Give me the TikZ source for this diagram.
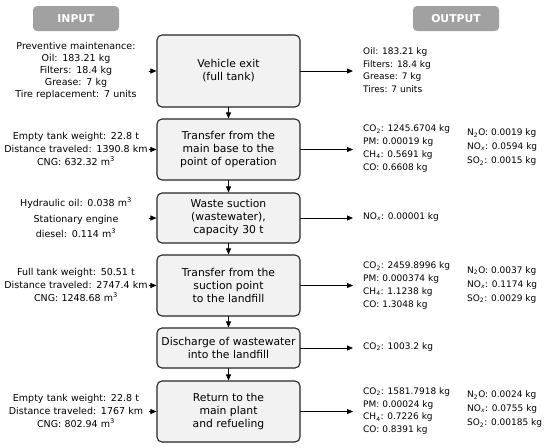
\documentclass[tikz,border=0pt]{standalone}
\usepackage{fontspec}
\setmainfont{DejaVu Sans}
\usetikzlibrary{arrows.meta}

\begin{document}
\begin{tikzpicture}[
  x={(1pt,0pt)},  % pixel grid of the layout
  y={(0pt,-1pt)}, % y grows downwards
  every path/.style={line cap=round, line join=round},
  stage/.style={draw=black!85, line width=1.1pt, fill=black!5, rounded corners=5pt,
    minimum width=143pt, align=center, inner sep=2pt,
    font=\fontsize{10.8}{13}\selectfont},
  hdr/.style={fill=black!37, rounded corners=4pt, minimum width=86pt, minimum height=25pt,
    text=white, font=\fontsize{10.8}{13}\selectfont\bfseries},
  intext/.style={text width=146pt, align=center, inner sep=0pt,
    font=\fontsize{9.5}{13}\selectfont},
  outtext/.style={anchor=west, align=left, inner xsep=10pt, inner ysep=0pt,
    font=\fontsize{9}{12.7}\selectfont},
  gastext/.style={outtext, font=\fontsize{9}{14}\selectfont},
  flow/.style={line width=0.9pt, -{Triangle[length=6pt,width=5pt]}},
]
\useasboundingbox (0,0) rectangle (550,448);

% ---------------- Headers ----------------
\node[hdr] (hin)  at (76,18.5)  {INPUT};
\node[hdr] (hout) at (456,18.5) {OUTPUT};

% ---------------- Process stages ----------------
\node[stage, minimum height=72pt] (s1) at (228.5,71)    {Vehicle exit\\(full tank)};
\node[stage, minimum height=61pt] (s2) at (228.5,149.5) {Transfer from the\\main base to the\\point of operation};
\node[stage, minimum height=50pt] (s3) at (228.5,218)   {Waste suction\\(wastewater),\\capacity 30 t};
\node[stage, minimum height=61pt] (s4) at (228.5,285.5) {Transfer from the\\suction point\\to the landfill};
\node[stage, minimum height=40pt] (s5) at (228.5,348)   {Discharge of wastewater\\into the landfill};
\node[stage, minimum height=61pt] (s6) at (228.5,411.5) {Return to the\\main plant\\and refueling};

% ---------------- Inputs ----------------
\node[intext, font=\fontsize{9.5}{12}\selectfont] (in1) at (76,71)
  {Preventive maintenance:\\Oil: 183.21 kg\\Filters: 18.4 kg\\Grease: 7 kg\\Tire replacement: 7 units};
\node[intext] (in2) at (76,148.5)
  {Empty tank weight: 22.8 t\\Distance traveled: 1390.8 km\\CNG: 632.32 m\textsuperscript{3}};
\node[intext, font=\fontsize{9.5}{15.5}\selectfont] (in3) at (76,218)
  {Hydraulic oil: 0.038 m\textsuperscript{3}\\Stationary engine\\diesel: 0.114 m\textsuperscript{3}};
\node[intext] (in4) at (76,285)
  {Full tank weight: 50.51 t\\Distance traveled: 2747.4 km\\CNG: 1248.68 m\textsuperscript{3}};
\node[intext] (in6) at (76,411)
  {Empty tank weight: 22.8 t\\Distance traveled: 1767 km\\CNG: 802.94 m\textsuperscript{3}};

% ---------------- Outputs ----------------
\node[outtext] (out1) at (353,70)
  {Oil: 183.21 kg\\Filters: 18.4 kg\\Grease: 7 kg\\Tires: 7 units};
\node[outtext] (out2) at (353,148.5)
  {CO\textsubscript{2}: 1245.6704 kg\\PM: 0.00019 kg\\CH\textsubscript{4}: 0.5691 kg\\CO: 0.6608 kg};
\node[gastext] (gas2) at (457,147.5)
  {N\textsubscript{2}O: 0.0019 kg\\NO\textsubscript{\itshape x}: 0.0594 kg\\SO\textsubscript{2}: 0.0015 kg};
\node[outtext] (out3) at (353,217)
  {NO\textsubscript{\itshape x}: 0.00001 kg};
\node[outtext] (out4) at (353,285.5)
  {CO\textsubscript{2}: 2459.8996 kg\\PM: 0.000374 kg\\CH\textsubscript{4}: 1.1238 kg\\CO: 1.3048 kg};
\node[gastext] (gas4) at (457,285)
  {N\textsubscript{2}O: 0.0037 kg\\NO\textsubscript{\itshape x}: 0.1174 kg\\SO\textsubscript{2}: 0.0029 kg};
\node[outtext] (out5) at (353,347)
  {CO\textsubscript{2}: 1003.2 kg};
\node[outtext] (out6) at (353,411)
  {CO\textsubscript{2}: 1581.7918 kg\\PM: 0.00024 kg\\CH\textsubscript{4}: 0.7226 kg\\CO: 0.8391 kg};
\node[gastext] (gas6) at (457,409.5)
  {N\textsubscript{2}O: 0.0024 kg\\NO\textsubscript{\itshape x}: 0.0755 kg\\SO\textsubscript{2}: 0.00185 kg};

% ---------------- Connectors ----------------
\foreach \a/\b in {s1/s2, s2/s3, s3/s4, s4/s5, s5/s6}
  \draw[flow] (\a) -- (\b);
\foreach \i in {1,2,3,4,6}
  \draw[flow] (s\i.west -| in\i.east) -- (s\i.west);
\foreach \i in {1,...,6}
  \draw[flow] (s\i.east) -- (s\i.east -| out\i.west);

\end{tikzpicture}
\end{document}
